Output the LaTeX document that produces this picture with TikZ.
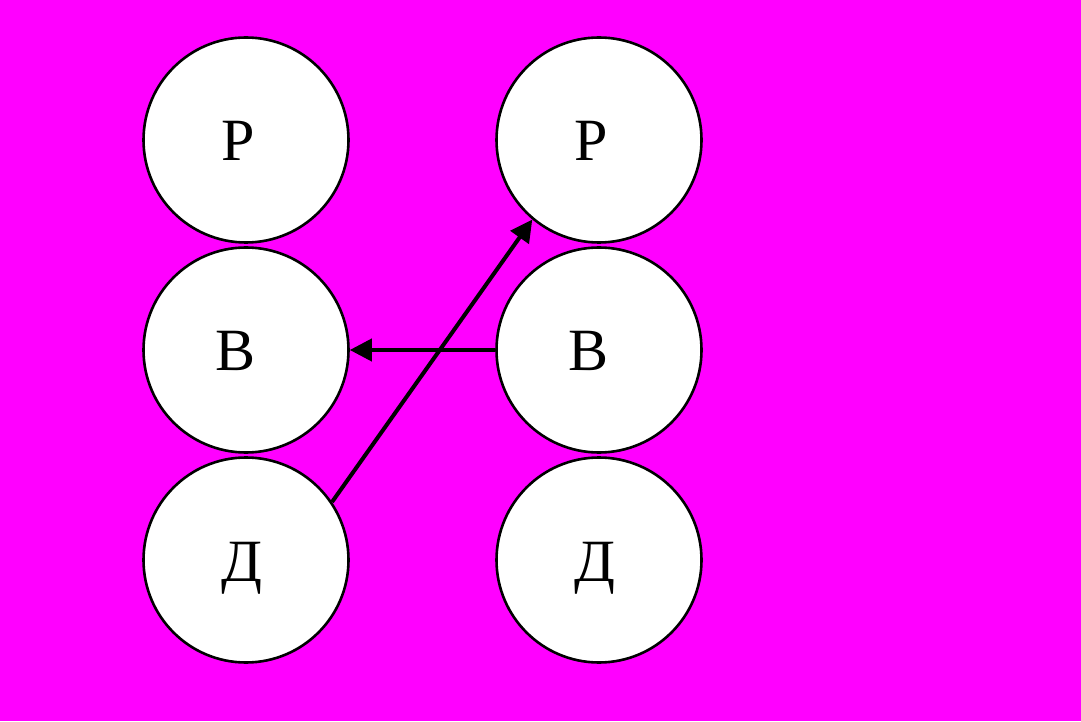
\documentclass[tikz,border=0pt]{standalone}
\usepackage{fontspec}
\setmainfont{Liberation Serif}
\usetikzlibrary{arrows.meta}
\definecolor{bgmag}{RGB}{255,0,255}
\begin{document}
\begin{tikzpicture}[x=1pt,y=1pt,
  ball/.style={circle,draw=black,line width=2.6pt,fill=white,minimum size=205pt,inner sep=0pt},
  letter/.style={font=\fontsize{60}{60}\selectfont,inner sep=0pt,anchor=base},
  conn/.style={line width=4pt,-{Triangle[length=22pt,width=22pt]}}]
\fill[bgmag] (0,0) rectangle (1081,721);
\useasboundingbox (0,0) rectangle (1081,721);
\node[ball] (p1) at (246,581) {};
\node[ball] (b1) at (246,371) {};
\node[ball] (d1) at (246,161) {};
\node[ball] (p2) at (599,581) {};
\node[ball] (b2) at (599,371) {};
\node[ball] (d2) at (599,161) {};
\node[letter] (tp1) at (238,560) {Р};
\node[letter] (tb1) at (236,350) {В};
\node[letter] (td1) at (242,140) {Д};
\node[letter] (tp2) at (591,560) {Р};
\node[letter] (tb2) at (589,350) {В};
\node[letter] (td2) at (595,140) {Д};
\draw[conn] (b2.west) -- (b1.east);
\draw[conn] (d1.34.2) -- (p2.230.5);
\end{tikzpicture}
\end{document}
